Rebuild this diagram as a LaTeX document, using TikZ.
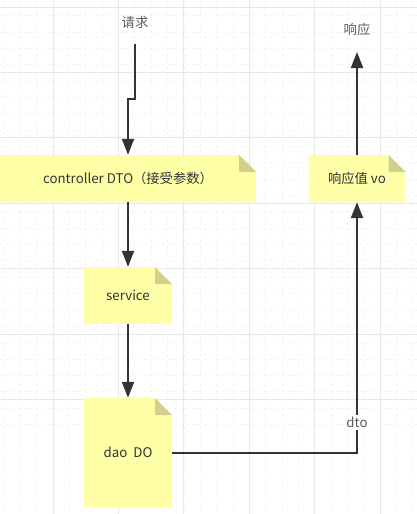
\documentclass[tikz,border=0pt]{standalone}
\usepackage{fontspec}
\setmainfont{Noto Sans CJK SC}
\usepackage{tikz}
\usetikzlibrary{arrows.meta}
\usepackage{xcolor}
\definecolor{notebg}{HTML}{FFFFA8}
\definecolor{notefold}{HTML}{D3CF8C}
\definecolor{ink}{HTML}{333333}
\definecolor{gridmaj}{HTML}{E8E8E8}
\definecolor{gridmin}{HTML}{F3F3F3}
\tikzset{
  note/.style={inner sep=0pt, text=ink, font=\fontsize{13.3}{16}\selectfont,
    path picture={
      \fill[notebg] (path picture bounding box.south west) -- (path picture bounding box.north west)
        -- ([xshift=-17pt]path picture bounding box.north east) -- ([yshift=-17pt]path picture bounding box.north east)
        -- (path picture bounding box.south east) -- cycle;
      \fill[notefold] ([xshift=-17pt]path picture bounding box.north east)
        -- ([xshift=-17pt,yshift=-17pt]path picture bounding box.north east)
        -- ([yshift=-17pt]path picture bounding box.north east) -- cycle;
    }},
  lbl/.style={text=ink!80, font=\fontsize{13.3}{16}\selectfont},
  flow/.style={draw=ink, line width=2pt, -{Triangle[length=16pt,width=12pt]}},
}

\begin{document}
\begin{tikzpicture}[x=1pt,y=-1pt]
    \useasboundingbox[fill=white] (0,0) rectangle (417,514);
    \foreach \g in {-12.4,3.95,...,420} {
      \draw[gridmin,dashed,line width=0.6pt] (\g,0) -- (\g,514);
      \draw[gridmin,dashed,line width=0.6pt] (0,\g+11.6) -- (417,\g+11.6);
    }
    \foreach \g in {-12.4,53,...,420} {
      \draw[gridmaj,line width=0.8pt] (\g,0) -- (\g,514);
      \draw[gridmaj,line width=0.8pt] (0,\g+19.4) -- (417,\g+19.4);
    }

    \node[lbl] (req) at (135,22) {请求};
    \node[lbl] (resp) at (357,29) {响应};
    \coordinate (reqend) at (135,44);
    \coordinate (respend) at (357,52);

    \node[note,minimum width=256pt,minimum height=47pt] (ctrl) at (128,178.5) {controller DTO（接受参数）\hspace{4pt}};
    \node[note,minimum width=97pt,minimum height=47pt] (vo) at (357,178.5) {响应值 vo};
    \node[note,minimum width=88pt,minimum height=57pt] (svc) at (128,295.5) {service};
    \node[note,minimum width=88pt,minimum height=109pt] (dao) at (128,452.5) {dao\ \ DO};

    \draw[flow] (reqend) -- ++(0,55) -| (ctrl.north);
    \draw[flow] (ctrl) -- (svc);
    \draw[flow] (svc) -- (dao);
    \draw[flow] (dao.east) -| node[pos=0.56,fill=white,lbl,inner sep=2pt] {dto} (vo.south);
    \draw[flow] (vo.north) -- (respend);
  \end{tikzpicture}
\end{document}
